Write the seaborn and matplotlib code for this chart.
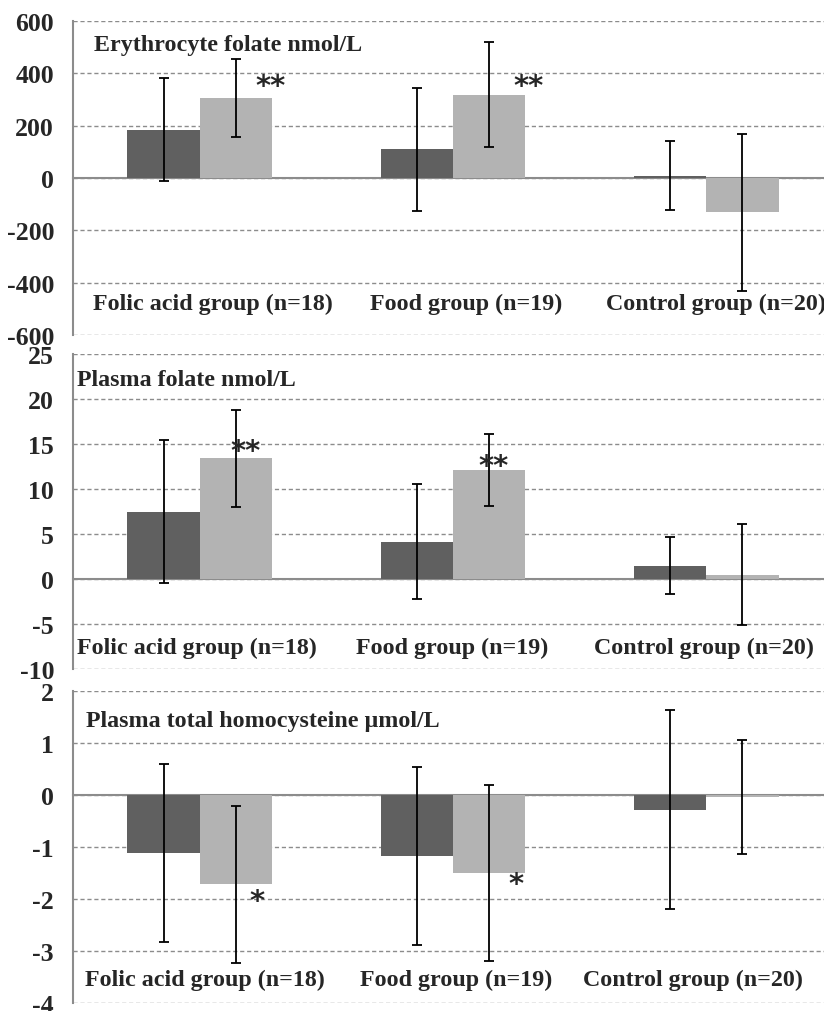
import pandas as pd
import matplotlib
matplotlib.use('Agg')
import matplotlib.pyplot as plt
import seaborn as sns

groups = ['Folic acid group (n=18)', 'Food group (n=19)', 'Control group (n=20)']
periods = ['Period 1', 'Period 2']

# Erythrocyte folate nmol/L
ery_p1 = [184, 109, 8]
ery_p2 = [306, 319, -130]
ery_p1_sd = [197, 236, 132]
ery_p2_sd = [148, 199, 300]
ery_stars = ['**', '**', '']

# Plasma folate nmol/L
pf_p1 = [7.5, 4.15, 1.5]
pf_p2 = [13.4, 12.1, 0.5]
pf_p1_sd = [7.95, 6.4, 3.2]
pf_p2_sd = [5.4, 4.0, 5.65]
pf_stars = ['**', '**', '']

# Plasma total homocysteine umol/L
hcy_p1 = [-1.11, -1.17, -0.28]
hcy_p2 = [-1.72, -1.5, -0.04]
hcy_p1_sd = [1.71, 1.71, 1.91]
hcy_p2_sd = [1.51, 1.7, 1.09]
hcy_stars = ['*', '*', '']

panels = [
    dict(title='Erythrocyte folate nmol/L', p1=ery_p1, p2=ery_p2, sd1=ery_p1_sd,
         sd2=ery_p2_sd, stars=ery_stars, ylim=(-600, 600), yticks=range(-600, 601, 200),
         sx=[0.28, 0.30, 0], sy=[350, 350, 0], box=(22, 336),
         title_xy=(0.028, 0.924), lab_dx=[0.053, 0.051, 0.036], lab_y=0.102),
    dict(title='Plasma folate nmol/L', p1=pf_p1, p2=pf_p2, sd1=pf_p1_sd,
         sd2=pf_p2_sd, stars=pf_stars, ylim=(-10, 25), yticks=range(-10, 26, 5),
         sx=[0.18, 0.16, 0], sy=[14.25, 12.55, 0], box=(355, 670),
         title_xy=(0.005, 0.92), lab_dx=[-0.01, -0.004, -0.01], lab_y=0.07),
    dict(title='Plasma total homocysteine \u00b5mol/L', p1=hcy_p1, p2=hcy_p2, sd1=hcy_p1_sd,
         sd2=hcy_p2_sd, stars=hcy_stars, ylim=(-4, 2), yticks=range(-4, 3, 1),
         sx=[0.225, 0.25, 0], sy=[-2.04, -1.71, 0], box=(692, 1004),
         title_xy=(0.017, 0.907), lab_dx=[0.022, 0.012, -0.051], lab_y=0.077),
]

sns.set_style('white')
plt.rcParams['font.family'] = ['Liberation Serif', 'DejaVu Serif']
plt.rcParams['font.weight'] = 'bold'
plt.rcParams['axes.unicode_minus'] = False

fig = plt.figure(figsize=(8.24, 10.12), dpi=100)
H = 1012.0
W = 824.0
grid_col = '#8c8c8c'
fs = 17.3

for p in panels:
    top, bot = p['box']
    ax = fig.add_axes([73 / W, 1 - bot / H, (833 - 73) / W, (bot - top) / H])
    df = pd.DataFrame({
        'group': groups * 2,
        'period': [periods[0]] * 3 + [periods[1]] * 3,
        'value': p['p1'] + p['p2'],
    })
    sns.barplot(data=df, x='group', y='value', hue='period', order=groups,
                hue_order=periods, palette=['#606060', '#b3b3b3'], width=0.57,
                saturation=1, errorbar=None, legend=False, ax=ax, zorder=2,
                linewidth=0)

    # error bars centred on the drawn bars
    for cont, sds in zip(ax.containers, [p['sd1'], p['sd2']]):
        for bar, sd in zip(cont, sds):
            xc = bar.get_x() + bar.get_width() / 2
            yv = bar.get_y() + bar.get_height()
            ax.errorbar(xc, yv, yerr=sd, fmt='none', ecolor='black',
                        elinewidth=1.3, capsize=3.5, capthick=1.3, zorder=4)

    ax.set_ylim(*p['ylim'])
    ax.set_xlim(-0.5, 2.5)
    ax.set_yticks(list(p['yticks']))
    ax.set_xticks([-0.5, 0.5, 1.5, 2.5])
    ax.set_xticklabels([])
    ax.set_xlabel('')
    ax.set_ylabel('')
    ax.yaxis.grid(True, linestyle=(0, (3, 2)), color=grid_col, linewidth=1)
    ax.set_axisbelow(True)

    for s in ['top', 'right']:
        ax.spines[s].set_visible(False)
    ax.spines['left'].set_color(grid_col)
    ax.spines['left'].set_linewidth(1.5)
    ax.spines['bottom'].set_position(('data', 0))
    ax.spines['bottom'].set_color(grid_col)
    ax.spines['bottom'].set_linewidth(1.5)
    ax.spines['bottom'].set_zorder(1.5)

    ax.tick_params(axis='y', length=3.6, width=1, color=grid_col, pad=10,
                   labelsize=18.5)
    ax.tick_params(axis='x', length=6, width=1.5, color=grid_col, direction='out')
    for lab in ax.get_yticklabels():
        lab.set_fontweight('bold')

    tx, ty = p['title_xy']
    ax.text(tx, ty, p['title'], transform=ax.transAxes, fontsize=fs,
            fontweight='bold', ha='left', va='center')

    for i, g in enumerate(groups):
        ax.text(i + p['lab_dx'][i], p['lab_y'], g, transform=ax.get_xaxis_transform(),
                fontsize=fs, fontweight='bold', ha='center', va='center')

    for i, st in enumerate(p['stars']):
        if st:
            ax.text(i + p['sx'][i], p['sy'][i], st, fontsize=21, fontweight='bold',
                    family=['DejaVu Sans'], ha='center', va='center', zorder=5)

fig.savefig('out.png', dpi=100)
